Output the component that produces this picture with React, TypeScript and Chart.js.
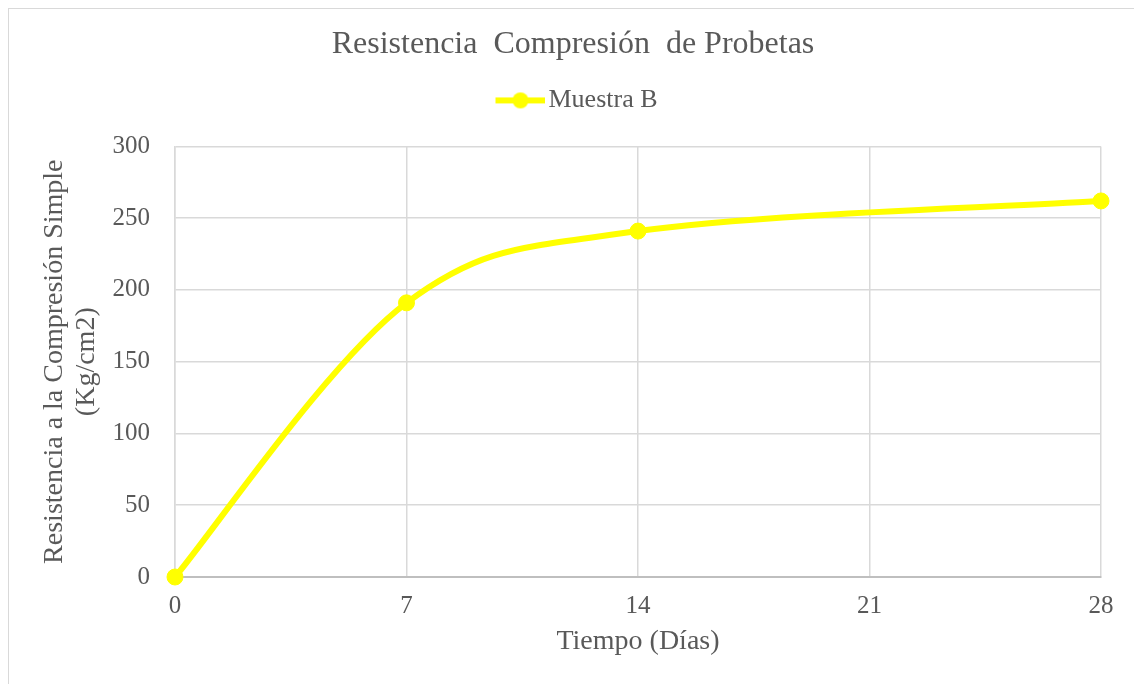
import React, { useEffect, useRef } from "react";
import { Chart, registerables } from "chart.js";

Chart.register(...registerables);

// ---- data ----
const chartTitle = "Resistencia  Compresión  de Probetas";
const seriesLabel = "Muestra B";
const days = [0, 7, 14, 28];
const muestraB = [0, 191, 241, 262];
const xTickValues = [0, 7, 14, 21, 28];
const yTickValues = [0, 50, 100, 150, 200, 250, 300];
const xAxisTitle = "Tiempo (Días)";
const yAxisTitle = ["Resistencia a la Compresión Simple", "(Kg/cm2)"];

// ---- styles ----
const FONT = "'Liberation Serif', 'Times New Roman', serif";
const GREY = "#595959";
const GRID = "#d9d9d9";
const YELLOW = "#FFFF00";

// legend marker: line with a circle, drawn in the right-hand 50px of the image
function makeLegendMarker(): HTMLCanvasElement {
  const c = document.createElement("canvas");
  c.width = 67;
  c.height = 18;
  const ctx = c.getContext("2d")!;
  ctx.strokeStyle = YELLOW;
  ctx.lineWidth = 6;
  ctx.beginPath();
  ctx.moveTo(17, 9);
  ctx.lineTo(67, 9);
  ctx.stroke();
  ctx.fillStyle = YELLOW;
  ctx.beginPath();
  ctx.arc(42, 9, 8, 0, Math.PI * 2);
  ctx.fill();
  return c;
}

// extra room between legend and plot area
const legendSpacer = {
  id: "legendSpacer",
  beforeLayout(chart: any) {
    const lg = chart.legend;
    if (lg && !lg.__spaced) {
      const fit = lg.fit.bind(lg);
      lg.fit = () => {
        fit();
        lg.height += 23;
      };
      lg.__spaced = true;
    }
  },
};

// Excel-like smoothing (Catmull-Rom style control points, 1/6 tension)
const excelSmooth = {
  id: "excelSmooth",
  beforeDatasetsDraw(chart: any) {
    chart.getSortedVisibleDatasetMetas().forEach((meta: any) => {
      const line = meta.dataset;
      if (!line) return;
      line.updateControlPoints(chart.chartArea, meta.axis);
      const pts = meta.data;
      const n = pts.length;
      for (let i = 0; i < n; i++) {
        const prev = pts[Math.max(i - 1, 0)];
        const next = pts[Math.min(i + 1, n - 1)];
        const dx = (next.x - prev.x) / 6;
        const dy = (next.y - prev.y) / 6;
        pts[i].cp1x = pts[i].x - dx;
        pts[i].cp1y = pts[i].y - dy;
        pts[i].cp2x = pts[i].x + dx;
        pts[i].cp2y = pts[i].y + dy;
      }
      line._path = undefined;
    });
  },
};

export default function App() {
  const ref = useRef<HTMLCanvasElement | null>(null);

  useEffect(() => {
    if (!ref.current) return;
    const marker = makeLegendMarker();
    const chart = new Chart(ref.current, {
      type: "line",
      data: {
        datasets: [
          {
            label: seriesLabel,
            data: days.map((d, i) => ({ x: d, y: muestraB[i] })),
            borderColor: YELLOW,
            backgroundColor: YELLOW,
            borderWidth: 6,
            pointRadius: 8,
            pointBorderWidth: 1,
            pointBackgroundColor: YELLOW,
            pointBorderColor: YELLOW,
            tension: 0.4,
            fill: false,
            clip: false as any,
          },
        ],
      },
      options: {
        animation: false,
        responsive: true,
        maintainAspectRatio: false,
        layout: { padding: { left: 36, right: 33, top: 0, bottom: 0 } },
        plugins: {
          title: {
            display: true,
            text: chartTitle,
            color: GREY,
            font: { family: FONT, size: 32, weight: "normal" },
            padding: { top: 16, bottom: 14 },
          },
          legend: {
            display: true,
            position: "top",
            labels: {
              usePointStyle: true,
              pointStyle: marker as any,
              pointStyleWidth: 47,
              color: GREY,
              font: { family: FONT, size: 26 },
              padding: 10,
            },
          },
          tooltip: { enabled: false },
        },
        scales: {
          x: {
            type: "linear",
            min: 0,
            max: 28,
            afterBuildTicks: (scale: any) => {
              scale.ticks = xTickValues.map((v) => ({ value: v }));
            },
            afterFit: (scale: any) => {
              scale.height = 107;
            },
            grid: { color: GRID, lineWidth: 1.5, drawTicks: false },
            border: { color: "#bfbfbf", width: 2 },
            ticks: {
              color: GREY,
              font: { family: FONT, size: 25 },
              padding: 14,
              maxRotation: 0,
            },
            title: {
              display: true,
              text: xAxisTitle,
              color: GREY,
              font: { family: FONT, size: 28, lineHeight: 1.2 },
              padding: { top: 0, bottom: 26 },
            },
          },
          y: {
            type: "linear",
            min: 0,
            max: 300,
            afterBuildTicks: (scale: any) => {
              scale.ticks = yTickValues.map((v) => ({ value: v }));
            },
            afterFit: (scale: any) => {
              scale.width = 130;
            },
            grid: { color: GRID, lineWidth: 1.5, drawTicks: false },
            border: { color: GRID, width: 1.5 },
            ticks: {
              color: GREY,
              font: { family: FONT, size: 25 },
              padding: 25,
            },
            title: {
              display: true,
              text: yAxisTitle,
              color: GREY,
              font: { family: FONT, size: 28, lineHeight: 1.13 },
              padding: { top: -6, bottom: 0 },
            },
          },
        },
      },
      plugins: [legendSpacer as any, excelSmooth as any],
    });
    return () => chart.destroy();
  }, []);

  return (
    <div
      style={{
        position: "fixed",
        left: 8,
        top: 8,
        width: 1126,
        height: 676,
        boxSizing: "border-box",
        borderTop: `1px solid ${GRID}`,
        borderLeft: `1px solid ${GRID}`,
        background: "#fff",
      }}
    >
      <div style={{ position: "relative", width: 1125, height: 675 }}>
        <canvas ref={ref} style={{ display: "block" }} />
      </div>
    </div>
  );
}
